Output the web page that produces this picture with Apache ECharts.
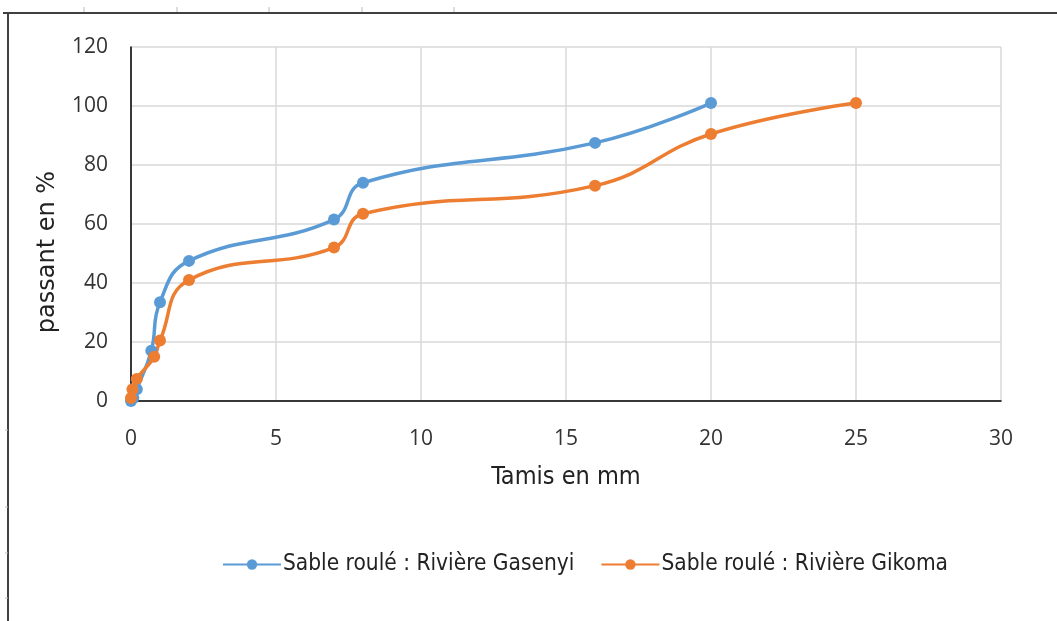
<!DOCTYPE html>
<html>
<head>
<meta charset="utf-8">
<script src="https://cdn.jsdelivr.net/npm/echarts@6/dist/echarts.min.js"></script>
<style>html,body{margin:0;padding:0;background:#fff}#c{width:1057px;height:621px}</style>
</head>
<body>
<div id="c"></div>
<script>
const seriesNames = ["Sable roulé : Rivière Gasenyi", "Sable roulé : Rivière Gikoma"];
const gasenyiX = [0, 0.08, 0.2, 0.7, 1, 2, 7, 8, 16, 20];
const gasenyiY = [0, 1, 4, 17, 33.5, 47.5, 61.5, 74, 87.5, 101];
const gikomaX = [0, 0.05, 0.2, 0.8, 1, 2, 7, 8, 16, 20, 25];
const gikomaY = [1, 4, 7.5, 15, 20.5, 41, 52, 63.5, 73, 90.5, 101];
const xTicks = [0, 5, 10, 15, 20, 25, 30];
const yTicks = [0, 20, 40, 60, 80, 100, 120];
const xTitle = "Tamis en mm";
const yTitle = "passant en %";

const narrow = "'Liberation Sans Narrow', 'DejaVu Sans Condensed', sans-serif";
const tickFont = "'Open Sans', sans-serif";
const pair = (xs, ys) => xs.map((x, i) => [x, ys[i]]);

const chart = echarts.init(document.getElementById('c'), null, {renderer: 'canvas'});
const colors = ['#5B9BD5', '#ED7D31'];
const mk = (name, xs, ys, color) => ({
  name, type: 'line', data: pair(xs, ys), smooth: 0.45,
  symbol: 'circle', symbolSize: 12,
  lineStyle: {color, width: 3.5}, itemStyle: {color},
  emphasis: {disabled: true}
});
const frameTicksTop = [84, 177, 269, 362, 454];
const frameTicksLeft = [430, 507, 553, 598];
const graphics = [
  {type: 'line', shape: {x1: 3, y1: 13, x2: 1057, y2: 13}, style: {stroke: '#404040', lineWidth: 2}},
  {type: 'line', shape: {x1: 8, y1: 13, x2: 8, y2: 621}, style: {stroke: '#404040', lineWidth: 2}}
];
frameTicksTop.forEach(x => graphics.push({type: 'line', shape: {x1: x, y1: 7, x2: x, y2: 12}, style: {stroke: '#bbb', lineWidth: 1}}));
frameTicksLeft.forEach(y => graphics.push({type: 'line', shape: {x1: 5, y1: y, x2: 8, y2: y}, style: {stroke: '#bbb', lineWidth: 1}}));

chart.setOption({
  animation: false,
  backgroundColor: '#fff',
  graphic: graphics,
  grid: {left: 131, top: 47, right: 56, bottom: 220, containLabel: false},
  xAxis: {
    type: 'value', min: 0, max: 30, interval: 5,
    name: xTitle, nameLocation: 'middle', nameGap: 64,
    nameTextStyle: {fontFamily: narrow, fontSize: 25, color: '#222'},
    axisLine: {show: true, lineStyle: {color: '#000', width: 1.5}},
    axisTick: {show: false},
    axisLabel: {margin: 28, fontFamily: tickFont, fontSize: 21, color: '#333',
      formatter: v => xTicks.includes(v) ? String(v) : ''},
    splitLine: {show: true, lineStyle: {color: '#d9d9d9', width: 1.5}}
  },
  yAxis: {
    type: 'value', min: 0, max: 120, interval: 20,
    name: yTitle, nameLocation: 'middle', nameGap: 71, nameRotate: 90,
    nameTextStyle: {fontFamily: "'DejaVu Sans', sans-serif", fontSize: 24, color: '#222', padding: [0, 56, 0, 0]},
    axisLine: {show: true, lineStyle: {color: '#000', width: 1.5}},
    axisTick: {show: false},
    axisLabel: {margin: 23, fontFamily: tickFont, fontSize: 21, color: '#333',
      formatter: v => yTicks.includes(v) ? String(v) : ''},
    splitLine: {show: true, lineStyle: {color: '#d9d9d9', width: 1.5}}
  },
  legend: {
    left: 222, top: 553, padding: 0, itemWidth: 58, itemHeight: 13, itemGap: 26,
    data: seriesNames,
    textStyle: {fontFamily: narrow, fontSize: 22.5, color: '#222', padding: [0, 0, 0, -3]}
  },
  series: [
    mk(seriesNames[0], gasenyiX, gasenyiY, colors[0]),
    mk(seriesNames[1], gikomaX, gikomaY, colors[1])
  ]
});
</script>
</body>
</html>
